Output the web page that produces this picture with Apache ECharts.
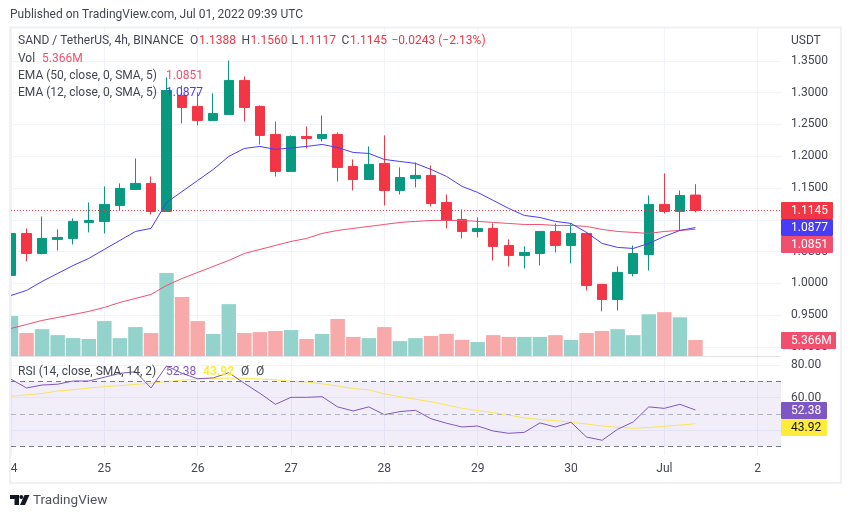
<!DOCTYPE html>
<html>
<head>
<meta charset="UTF-8">
<title>SAND / TetherUS</title>
<script src="https://cdn.jsdelivr.net/npm/echarts@6/dist/echarts.min.js"></script>
<style>
html, body { margin: 0; padding: 0; background: #fff; }
#main { width: 851px; height: 518px; }
</style>
</head>
<body>
<div id="main"></div>
<script type="text/javascript">
var GREEN = '#089981', RED = '#f23645', TXT = '#434651', PINK = '#f0506e', BLUE = '#4a3cf5', PURPLE = '#7e57c2', YELLOW = '#ffeb3b';
var FONT = 'Roboto';

// 4h candles from Jun 24 00:00: open, high, low, close
var ohlc = [
  [1.0125, 1.1005, 1.0125, 1.0785], [1.0785, 1.0864, 1.0345, 1.0470], [1.0470, 1.1052, 1.0455, 1.0706],
  [1.0691, 1.0848, 1.0518, 1.0722], [1.0706, 1.1021, 1.0612, 1.0974], [1.0958, 1.1272, 1.0801, 1.0989],
  [1.0974, 1.1524, 1.0785, 1.1241], [1.1225, 1.1571, 1.1147, 1.1492], [1.1477, 1.1964, 1.1477, 1.1571],
  [1.1571, 1.1681, 1.1084, 1.1131], [1.1131, 1.3238, 1.1131, 1.3033], [1.2955, 1.3112, 1.2514, 1.2766],
  [1.2782, 1.3002, 1.2483, 1.2562], [1.2562, 1.2986, 1.2562, 1.2672], [1.2656, 1.3505, 1.2656, 1.3191],
  [1.3191, 1.3253, 1.2546, 1.2766], [1.2782, 1.2797, 1.2184, 1.2326], [1.2342, 1.2546, 1.1681, 1.1760],
  [1.1760, 1.2326, 1.1760, 1.2310], [1.2310, 1.2467, 1.2121, 1.2279], [1.2279, 1.2640, 1.2231, 1.2342],
  [1.2342, 1.2373, 1.1602, 1.1823], [1.1838, 1.1948, 1.1461, 1.1634], [1.1634, 1.2153, 1.1634, 1.1870],
  [1.1886, 1.2326, 1.1225, 1.1461], [1.1461, 1.1823, 1.1398, 1.1665], [1.1650, 1.1901, 1.1508, 1.1697],
  [1.1697, 1.1854, 1.1209, 1.1257], [1.1272, 1.1398, 1.0864, 1.0989], [1.1005, 1.1162, 1.0706, 1.0816],
  [1.0816, 1.1036, 1.0722, 1.0864], [1.0864, 1.0942, 1.0360, 1.0581], [1.0596, 1.0691, 1.0266, 1.0439],
  [1.0439, 1.0581, 1.0235, 1.0486], [1.0470, 1.0816, 1.0282, 1.0816], [1.0816, 1.0942, 1.0486, 1.0596],
  [1.0596, 1.0942, 1.0313, 1.0785], [1.0785, 1.0801, 0.9889, 0.9967], [0.9983, 0.9983, 0.9559, 0.9747],
  [0.9747, 1.0266, 0.9574, 1.0172], [1.0156, 1.0596, 1.0109, 1.0470], [1.0455, 1.1382, 1.0203, 1.1241],
  [1.1241, 1.1728, 1.1099, 1.1131], [1.1131, 1.1461, 1.0832, 1.1382], [1.1388, 1.1560, 1.1117, 1.1145]
];
// volume in millions
var vol = [13.4, 7.7, 9.0, 7.0, 6.0, 5.7, 11.7, 6.0, 9.7, 7.7, 27.8, 19.8, 11.7, 7.4, 17.4, 7.7, 8.0, 8.4, 8.7, 5.7,
  7.4, 12.4, 6.4, 6.0, 9.7, 5.0, 6.0, 6.7, 7.4, 5.4, 4.7, 7.0, 6.4, 6.4, 6.4, 7.0, 5.4, 7.7, 8.4, 9.0, 7.0, 14.0, 14.7, 13.0, 5.366];
var ema50 = [0.9291, 0.9354, 0.9417, 0.9464, 0.9511, 0.9559, 0.9621, 0.9700, 0.9763, 0.9826, 0.9967, 1.0077, 1.0172, 1.0266, 1.0360,
  1.0470, 1.0533, 1.0596, 1.0659, 1.0706, 1.0785, 1.0832, 1.0864, 1.0895, 1.0926, 1.0958, 1.0974, 1.0989, 1.0989, 1.0989,
  1.0974, 1.0958, 1.0942, 1.0926, 1.0926, 1.0911, 1.0911, 1.0895, 1.0848, 1.0816, 1.0801, 1.0785, 1.0816, 1.0832, 1.0851];
var ema12 = [0.9810, 0.9889, 1.0030, 1.0156, 1.0282, 1.0392, 1.0534, 1.0675, 1.0816, 1.0864, 1.1272, 1.1445, 1.1618, 1.1791, 1.1996,
  1.2121, 1.2153, 1.2106, 1.2129, 1.2153, 1.2184, 1.2137, 1.2058, 1.2043, 1.1948, 1.1917, 1.1886, 1.1791, 1.1681, 1.1524,
  1.1430, 1.1304, 1.1178, 1.1068, 1.1036, 1.0974, 1.0942, 1.0801, 1.0628, 1.0565, 1.0549, 1.0628, 1.0738, 1.0832, 1.0877];
var rsi = [71.4, 66, 67.8, 68.3, 70.3, 70.3, 72.6, 75, 76, 66, 79.6, 75, 71.7, 72.2, 75.4, 68.9, 62.7, 55.9, 60.2, 60.2, 60.6, 54.3, 51.8,
  54.3, 49.5, 51.4, 52.2, 47, 44.2, 41.9, 42.5, 39.4, 38, 38.6, 44.4, 41.9, 44.8, 35.7, 33.7, 40.5, 45, 54.3, 53.4, 55.9, 52.38];
var rsiMa = [60.9, 61.7, 62.6, 64.1, 64.9, 65.9, 66.8, 67.4, 68.2, 68.9, 70, 70.8, 71.5, 71.8, 72, 71.9, 71.5, 71, 70.1, 69.7, 68.5, 67.2, 65.6,
  64.8, 62.3, 60.6, 59, 57.5, 55.5, 53.4, 52, 50.7, 49.2, 47.5, 46.5, 45.8, 44.8, 43.7, 42.5, 41.7, 41.1, 41.6, 42.3, 43.1, 43.92];

var dayTicks = [0, 6, 12, 18, 24, 30, 36, 42, 48];
var dayNames = {0: '4', 6: '25', 12: '26', 18: '27', 24: '28', 30: '29', 36: '30', 42: 'Jul', 48: '2'};
var lastClose = ohlc[ohlc.length - 1][3];
function pairs(list) { return list.map(function (v, i) { return [i, v]; }); }

var candles = ohlc.map(function (d, i) { return [i, d[0], d[3], d[2], d[1]]; });
var volBars = vol.map(function (v, i) {
  return { value: [i, v], itemStyle: { color: ohlc[i][3] >= ohlc[i][0] ? '#94d3cc' : '#f8a9a9' } };
});

// header and pane legends
function label(x, y, text, color, size, weight) {
  return { type: 'text', z: 50, x: x, y: y, style: { text: text, fill: color || TXT, font: (weight || 'normal') + ' ' + (size || 12) + 'px ' + FONT, verticalAlign: 'middle' } };
}
function pill(x, y, w, text, bg, fg) {
  return { type: 'group', z: 60, children: [
    { type: 'rect', z: 60, shape: { x: x, y: y, width: w, height: 17, r: 1 }, style: { fill: bg } },
    { type: 'text', z: 61, x: x + 10, y: y + 9, style: { text: text, fill: fg || '#fff', font: '12px ' + FONT, verticalAlign: 'middle' } }
  ] };
}
var graphics = [
  // the first candle and bar are cut off by the pane edge
  { type: 'rect', z: 44, silent: true, shape: { x: 0, y: 28, width: 10, height: 428 }, style: { fill: '#fff' } },
  { type: 'rect', z: 45, silent: true, shape: { x: 10, y: 27.5, width: 831, height: 455.5 }, style: { fill: 'none', stroke: '#eff1f6', lineWidth: 2 } },
  label(10, 15, 'Published on TradingView.com, Jul 01, 2022 09:39 UTC', TXT, 12),
  label(18, 41, 'SAND / TetherUS, 4h, BINANCE'), label(190, 41, 'O'), label(199, 41, '1.1388', RED),
  label(241.5, 41, 'H'), label(250.5, 41, '1.1560', RED), label(291.5, 41, 'L'), label(299, 41, '1.1117', RED),
  label(341.5, 41, 'C'), label(350, 41, '1.1145', RED), label(391.5, 41, '\u22120.0243 (\u22122.13%)', RED),
  label(18, 59, 'Vol'), label(42, 59, '5.366M', PINK),
  label(18, 76, 'EMA (50, close, 0, SMA, 5)'), label(166, 76, '1.0851', PINK),
  label(18, 93, 'EMA (12, close, 0, SMA, 5)'), label(166, 93, '1.0877', BLUE),
  label(18, 372, 'RSI (14, close, SMA, 14, 2)'), label(166, 372, '52.38', PURPLE), label(203, 372, '43.92', YELLOW, 12, 'bold'),
  label(241, 372, '\u00d8'), label(256, 372, '\u00d8'),
  label(791, 41, 'USDT'),
  pill(781, 202, 52, '1.1145', RED), pill(781, 219, 52, '1.0877', BLUE), pill(781, 236, 52, '1.0851', PINK),
  pill(781, 332, 55, '5.366M', PINK), pill(781, 402, 46, '52.38', PURPLE), pill(781, 419, 46, '43.92', YELLOW, '#131722'),
  // TradingView mark
  { type: 'polygon', z: 50, shape: { points: [[10, 495], [19, 495], [19, 505], [14.5, 505], [14.5, 499], [10, 499]] }, style: { fill: '#131722' } },
  { type: 'circle', z: 50, shape: { cx: 21.3, cy: 497, r: 2 }, style: { fill: '#131722' } },
  { type: 'polygon', z: 50, shape: { points: [[24.5, 495], [29.5, 495], [25, 505], [20, 505]] }, style: { fill: '#131722' } },
  label(33, 500.5, 'TradingView', '#50535e', 13.5)
];

var myChart = echarts.init(document.getElementById('main'));
myChart.setOption({
  animation: false,
  backgroundColor: '#fff',
  textStyle: { fontFamily: FONT },
  graphic: graphics,
  grid: [
    { left: 11, top: 28, width: 770, height: 328 },
    { left: 11, top: 357, width: 770, height: 98 }
  ],
  xAxis: [
    { type: 'value', gridIndex: 0, min: 0, max: 49.5,
      axisLine: { show: true, onZero: false, lineStyle: { color: '#e0e3eb' } }, axisTick: { show: false, customValues: dayTicks }, axisLabel: { show: false },
      splitLine: { show: true, lineStyle: { color: '#f0f3fa' } } },
    { type: 'value', gridIndex: 1, min: 0, max: 49.5,
      axisLine: { show: false }, axisTick: { show: false, customValues: dayTicks },
      axisLabel: { color: TXT, fontSize: 12, margin: 8, customValues: [0.2, 6, 12, 18, 24, 30, 36, 42, 48], showMinLabel: true, showMaxLabel: true,
        formatter: function (v) { return dayNames[Math.floor(v)] || ''; } },
      splitLine: { show: true, lineStyle: { color: '#f0f3fa' } } }
  ],
  yAxis: [
    { type: 'value', gridIndex: 0, position: 'right', min: 0.8858, max: 1.4015, scale: true,
      axisLine: { show: false }, axisTick: { show: false, customValues: [0.9, 0.95, 1, 1.05, 1.1, 1.15, 1.2, 1.25, 1.3, 1.35] },
      axisLabel: { color: TXT, fontSize: 12, margin: 10, customValues: [0.9, 0.95, 1, 1.05, 1.1, 1.15, 1.2, 1.25, 1.3, 1.35],
        formatter: function (v) { return v.toFixed(4); } },
      splitLine: { show: true, lineStyle: { color: '#f0f3fa' } } },
    // volume shares the price pane, its axis is not shown
    { type: 'value', gridIndex: 0, min: 0, max: 110, show: false, splitLine: { show: false } },
    { type: 'value', gridIndex: 1, position: 'right', min: 24.6, max: 85.1,
      axisLine: { show: false }, axisTick: { show: false, customValues: [40, 60, 80] },
      axisLabel: { color: TXT, fontSize: 12, margin: 10, customValues: [60, 80], formatter: function (v) { return v.toFixed(2); } },
      splitLine: { show: true, lineStyle: { color: '#f0f3fa' } } }
  ],
  series: [
    { type: 'bar', name: 'Vol', xAxisIndex: 0, yAxisIndex: 1, barWidth: 14.5, data: volBars, z: 2 },
    { type: 'candlestick', name: 'SAND', xAxisIndex: 0, yAxisIndex: 0, barWidth: 10, data: candles, z: 3,
      encode: { x: 0, y: [1, 2, 3, 4] },
      itemStyle: { color: GREEN, color0: RED, borderColor: GREEN, borderColor0: RED, borderWidth: 1 } },
    { type: 'line', name: 'EMA 50', xAxisIndex: 0, yAxisIndex: 0, data: pairs(ema50), showSymbol: false, z: 4, lineStyle: { color: PINK, width: 1 } },
    { type: 'line', name: 'EMA 12', xAxisIndex: 0, yAxisIndex: 0, data: pairs(ema12), showSymbol: false, z: 4, lineStyle: { color: BLUE, width: 1 } },
    // last close, dotted across the pane
    { type: 'line', name: 'Last', xAxisIndex: 0, yAxisIndex: 0, data: [[0, lastClose], [49.5, lastClose]], showSymbol: false, z: 5,
      lineStyle: { color: RED, width: 1, type: [1, 2] } },
    { type: 'line', name: 'RSI', xAxisIndex: 1, yAxisIndex: 2, data: pairs(rsi), showSymbol: false, z: 4, lineStyle: { color: PURPLE, width: 1 },
      markArea: { silent: true, itemStyle: { color: 'rgba(126,87,194,0.1)' }, data: [[{ yAxis: 70 }, { yAxis: 30 }]] },
      markLine: { silent: true, symbol: 'none', label: { show: false }, animation: false,
        data: [
          { yAxis: 70, lineStyle: { color: '#787b86', type: [5, 4], width: 1 } },
          { yAxis: 50, lineStyle: { color: '#b2b5be', type: [5, 4], width: 1 } },
          { yAxis: 30, lineStyle: { color: '#787b86', type: [5, 4], width: 1 } }
        ] } },
    { type: 'line', name: 'RSI MA', xAxisIndex: 1, yAxisIndex: 2, data: pairs(rsiMa), showSymbol: false, z: 3, lineStyle: { color: '#fbe45a', width: 1 } }
  ]
});
</script>
</body>
</html>
